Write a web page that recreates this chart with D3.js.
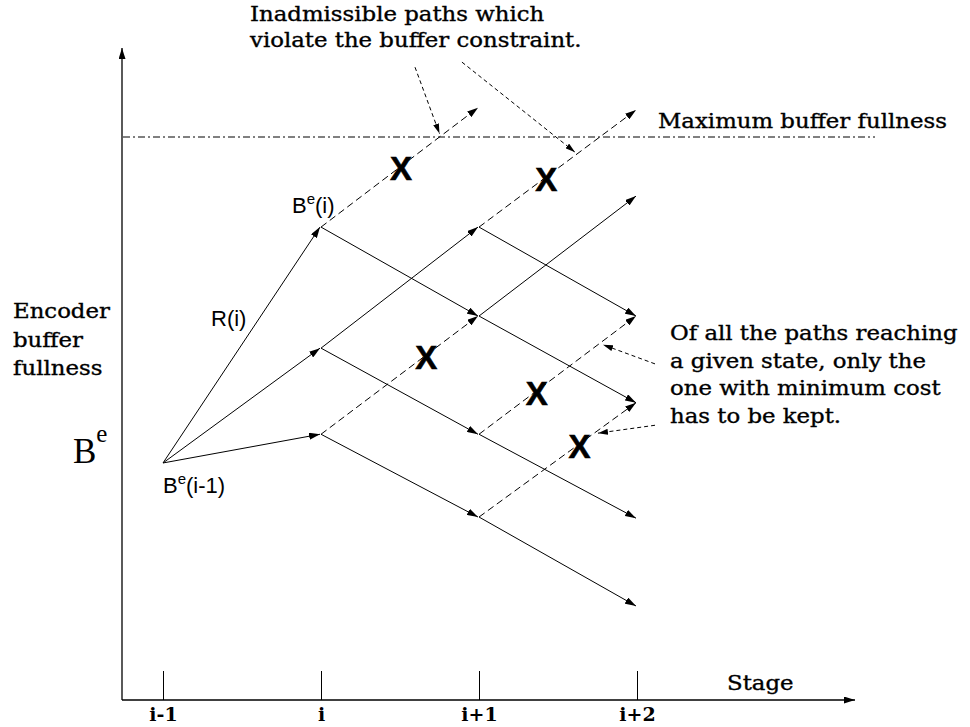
<!DOCTYPE html>
<html><head><meta charset="utf-8">
<script src="https://cdn.jsdelivr.net/npm/d3@7/dist/d3.min.js"></script>
<style>body{margin:0;background:#fff}svg{display:block}</style>
</head><body>
<svg id="c" width="970" height="727"></svg>
<script>
// ---------- data ----------
const stages = ["i-1", "i", "i+1", "i+2"];
const maxBuffer = 100;            // "Maximum buffer fullness" level
const axisTopLevel = 115.8;
// edges: [fromLevel, toLevel, dashed]
const edgesFromStage0 = [[42.1, 84.0, 0], [42.1, 62.5, 0], [42.1, 47.2, 0]];
const edgesFromStage1 = [[84.0, 105.2, 1], [84.0, 68.2, 0], [62.5, 84.0, 0], [62.5, 47.2, 0], [47.2, 68.2, 1], [47.2, 32.5, 0]];
const edgesFromStage2 = [[84.0, 104.8, 1], [84.0, 68.2, 0], [68.2, 89.5, 0], [68.2, 52.8, 0], [47.2, 68.2, 1], [47.2, 32.3, 0], [32.5, 52.8, 1], [32.5, 16.7, 0]];
// crosses: [fromStage, fromLevel, toLevel, fraction along edge]
const crosses = [[1, 84.0, 105.2, 0.5], [2, 84.0, 104.8, 0.42], [1, 47.2, 68.2, 0.66], [2, 47.2, 68.2, 0.36], [2, 32.5, 52.8, 0.63]];
// annotation pointers: [fromStagePos, fromLevel, toStagePos, toLevel]
const pointers = [[1.595, 112.4, 1.75, 100.6], [1.892, 113.3, 2.608, 97.3], [3.114, 59.7, 2.785, 63.1], [3.114, 48.8, 2.753, 47.4]];
const topNote = ["Inadmissible paths which", "violate the buffer constraint."];
const rightNote = ["Of all the paths reaching", "a given state, only the", "one with minimum cost", "has to be kept."];
const yLabel = ["Encoder", "buffer", "fullness"];

// ---------- layout ----------
const svg = d3.select("#c");
const x = d3.scalePoint().domain(stages).range([163, 637]);
const xs = d3.scaleLinear().domain([0, 3]).range([163, 637]);
const y = d3.scaleLinear().domain([0, maxBuffer]).range([700, 137]);
const axisX0 = 122, axisY0 = 700;

const defs = svg.append("defs");
function marker(id, L, W) {
  defs.append("marker").attr("id", id).attr("viewBox", `0 0 ${L} ${W}`)
    .attr("refX", L).attr("refY", W / 2).attr("markerWidth", L).attr("markerHeight", W)
    .attr("markerUnits", "userSpaceOnUse").attr("orient", "auto")
    .append("path").attr("d", `M0,0L${L},${W / 2}L0,${W}Z`).attr("fill", "#000");
}
marker("ah", 11, 7);
marker("ap", 10, 6);
marker("ax", 11, 7);

// axes
svg.append("line").attr("x1", axisX0).attr("y1", axisY0).attr("x2", axisX0).attr("y2", y(axisTopLevel))
  .attr("stroke", "#000").attr("stroke-width", 1.3).attr("marker-end", "url(#ax)");
svg.append("line").attr("x1", axisX0).attr("y1", axisY0).attr("x2", 855).attr("y2", axisY0)
  .attr("stroke", "#000").attr("stroke-width", 1.3).attr("marker-end", "url(#ax)");
const gx = svg.append("g").attr("transform", `translate(0,${axisY0})`)
  .call(d3.axisBottom(x).tickSize(-29).tickPadding(8));
gx.select(".domain").remove();
gx.selectAll(".tick line").attr("stroke", "#000").attr("stroke-width", 1);
gx.selectAll(".tick text").attr("font-family", "DejaVu Serif").attr("font-weight", "bold")
  .attr("font-size", 19).attr("fill", "#000");

// max buffer line
svg.append("line").attr("x1", axisX0 + 1).attr("x2", 875).attr("y1", y(maxBuffer)).attr("y2", y(maxBuffer))
  .attr("stroke", "#000").attr("stroke-width", 1).attr("stroke-dasharray", "7,3,2,3");

// edges
const edges = [];
[edgesFromStage0, edgesFromStage1, edgesFromStage2].forEach((arr, s) =>
  arr.forEach(e => edges.push({ s, from: e[0], to: e[1], dashed: e[2] })));
svg.append("g").selectAll("line").data(edges).join("line")
  .attr("x1", d => x(stages[d.s])).attr("y1", d => y(d.from))
  .attr("x2", d => x(stages[d.s + 1]) - 1).attr("y2", d => y(d.to))
  .attr("stroke", "#000").attr("stroke-width", 1)
  .attr("stroke-dasharray", d => d.dashed ? "7,4" : null)
  .attr("marker-end", "url(#ah)");

// crosses
svg.append("g").selectAll("text").data(crosses).join("text")
  .attr("x", d => xs(d[0] + d[3]) + 1)
  .attr("y", d => y(d[1] + (d[2] - d[1]) * d[3]) + 13)
  .attr("text-anchor", "middle").attr("font-family", "Liberation Sans").attr("font-weight", "bold")
  .attr("font-size", 33).attr("stroke", "#000").attr("stroke-width", 0.6).text("X");

// pointers
svg.append("g").selectAll("line").data(pointers).join("line")
  .attr("x1", d => xs(d[0])).attr("y1", d => y(d[1])).attr("x2", d => xs(d[2])).attr("y2", d => y(d[3]))
  .attr("stroke", "#000").attr("stroke-width", 1).attr("stroke-dasharray", "4,3")
  .attr("marker-end", "url(#ap)");

// serif text helper (stretched like the original wide face)
function serif(str, px, py, size, stretch) {
  const t = svg.append("text").attr("x", px).attr("y", py).attr("font-family", "DejaVu Serif")
    .attr("font-size", size).attr("fill", "#000").attr("stroke", "#000").attr("stroke-width", 0.35).text(str);
  const w = t.node().getComputedTextLength();
  t.attr("textLength", w * stretch).attr("lengthAdjust", "spacingAndGlyphs");
  return t;
}
topNote.forEach((s, i) => serif(s, 250, 21 + i * 26, 19.5, 1.17));
serif("Maximum buffer fullness", 658, 128, 19.5, 1.17);
rightNote.forEach((s, i) => serif(s, 670, 340 + i * 27.7, 19.5, 1.17));
yLabel.forEach((s, i) => serif(s, 13, 318 + i * 28.5, 19.5, 1.17));
serif("Stage", 727, 690, 19.5, 1.17);

// B^e big
const be = svg.append("text").attr("x", 73).attr("y", 463).attr("font-family", "Liberation Serif").attr("font-size", 35);
be.append("tspan").text("B");
be.append("tspan").attr("font-size", 25).attr("dy", -21).text("e");

// sans labels
function sup(px, py, tail) {
  const t = svg.append("text").attr("x", px).attr("y", py).attr("font-family", "Liberation Sans").attr("font-size", 22);
  t.append("tspan").text("B");
  t.append("tspan").attr("font-size", 15).attr("dy", -9).text("e");
  t.append("tspan").attr("dy", 9).text(tail);
}
sup(292, 213, "(i)");
sup(163, 493, "(i-1)");
svg.append("text").attr("x", 211).attr("y", 326).attr("font-family", "Liberation Sans").attr("font-size", 22).text("R(i)");
</script>
</body></html>
